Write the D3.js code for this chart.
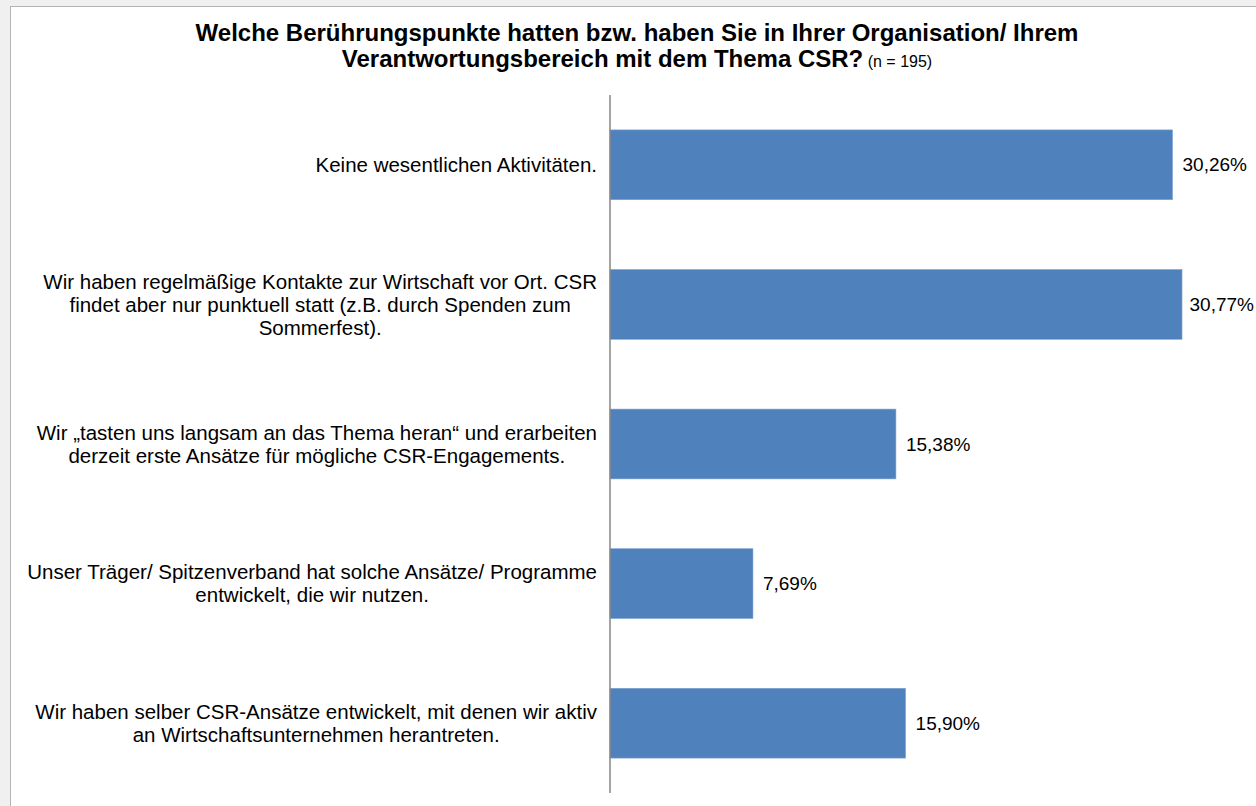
<!DOCTYPE html>
<html>
<head>
<meta charset="UTF-8">
<style>
  body { margin: 0; background: #f0f0f0; }
  svg { display: block; }
  .cat { font-family: "Liberation Sans", Arial, sans-serif; font-size: 20.5px; fill: #000; }
  .val { font-family: "Liberation Sans", Arial, sans-serif; font-size: 19px; fill: #000; }
  .title { font-family: "Liberation Sans", Arial, sans-serif; font-weight: bold; font-size: 24px; fill: #000; }
</style>
</head>
<body>
<svg width="1256" height="806"></svg>
<script src="https://d3js.org/d3.v7.min.js"></script>
<script>
// data
var categories = [
    ["Keine wesentlichen Aktivitäten."],
    ["Wir haben regelmäßige Kontakte zur Wirtschaft vor Ort. CSR", "findet aber nur punktuell statt (z.B. durch Spenden zum", "Sommerfest)."],
    ["Wir „tasten uns langsam an das Thema heran“ und erarbeiten", "derzeit erste Ansätze für mögliche CSR-Engagements."],
    ["Unser Träger/ Spitzenverband hat solche Ansätze/ Programme", "entwickelt, die wir nutzen."],
    ["Wir haben selber CSR-Ansätze entwickelt, mit denen wir aktiv", "an Wirtschaftsunternehmen herantreten."]
];
var values = [30.26, 30.77, 15.38, 7.69, 15.90];
var valueLabels = ["30,26%", "30,77%", "15,38%", "7,69%", "15,90%"];
var titleLines = ["Welche Berührungspunkte hatten bzw. haben Sie in Ihrer Organisation/ Ihrem", "Verantwortungsbereich mit dem Thema CSR?"];
var titleNote = "(n = 195)";

var W = 1256, H = 806;
var svg = d3.select("svg");

// chart area background
svg.append("rect")
    .attr("x", 10.5).attr("y", 6.5)
    .attr("width", W + 10).attr("height", H + 10)
    .attr("fill", "#fff")
    .attr("stroke", "#b4b4b4");

var x0 = 610;
var x = d3.scaleLinear().domain([0, 35]).range([x0, x0 + 18.59 * 35]);
var y = d3.scaleBand().domain(d3.range(values.length)).range([95, 793]).paddingInner(0.5).paddingOuter(0.25);

// title
var t = svg.append("text").attr("class", "title").attr("text-anchor", "middle");
t.append("tspan").attr("x", 637).attr("y", 41).text(titleLines[0]);
var t2 = t.append("tspan").attr("x", 637).attr("y", 67);
t2.append("tspan").text(titleLines[1]);
t2.append("tspan").attr("font-weight", "normal").attr("font-size", "16px").text(" " + titleNote);

// bars
svg.selectAll(".bar")
    .data(values)
    .enter().append("rect")
    .attr("class", "bar")
    .attr("x", x0)
    .attr("y", function(d, i) { return y(i); })
    .attr("width", function(d) { return x(d) - x0; })
    .attr("height", y.bandwidth())
    .attr("fill", "#4f81bd")
    .attr("stroke", "#7fa3d0")
    .attr("stroke-width", 0.6);

// value labels
svg.selectAll(".val")
    .data(values)
    .enter().append("text")
    .attr("class", "val")
    .attr("y", function(d, i) { return y(i) + y.bandwidth() / 2; })
    .attr("dy", "0.35em")
    .text(function(d, i) { return valueLabels[i]; })
    .attr("x", function(d) {
        var w = this.getComputedTextLength();
        return Math.min(x(d) + 10, W - 2 - w);
    });

// axis line
svg.append("line")
    .attr("x1", x0).attr("x2", x0)
    .attr("y1", 95).attr("y2", 793)
    .attr("stroke", "#868686")
    .attr("stroke-width", 1.5);

// category labels: block right aligned, lines centered inside block
var lh = 23;
categories.forEach(function(lines, i) {
    var g = svg.append("text").attr("class", "cat").attr("text-anchor", "middle");
    var cy = y(i) + y.bandwidth() / 2;
    var spans = lines.map(function(s, j) {
        return g.append("tspan")
            .attr("y", cy + (j - (lines.length - 1) / 2) * lh)
            .attr("dy", "0.35em")
            .text(s);
    });
    var maxW = d3.max(spans, function(s) { return s.node().getComputedTextLength(); });
    var cx = 597 - maxW / 2;
    spans.forEach(function(s) { s.attr("x", cx); });
});
</script>
</body>
</html>
